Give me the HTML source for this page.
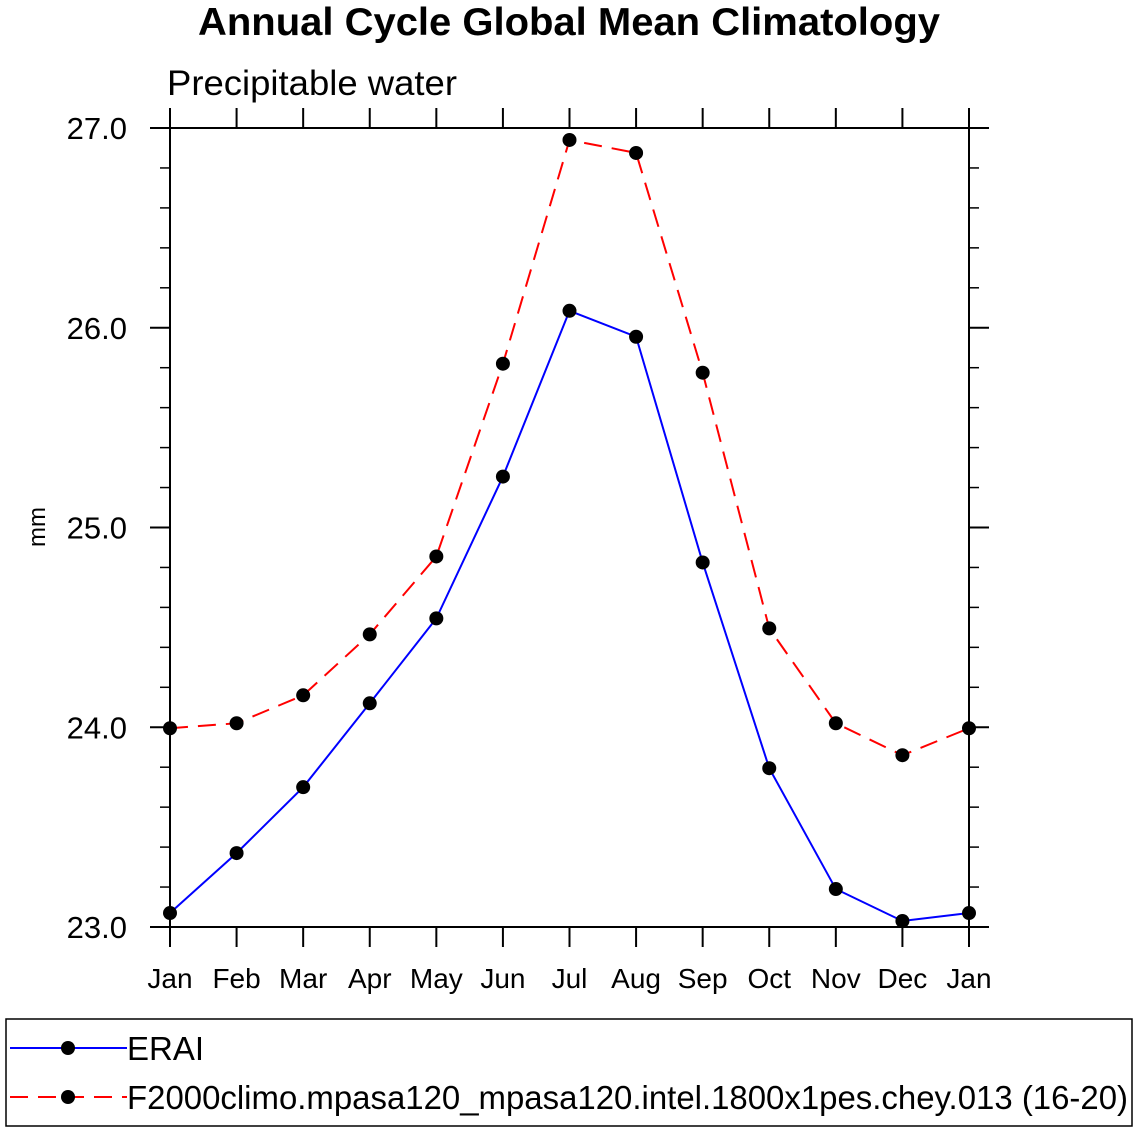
<!DOCTYPE html>
<html><head><meta charset="utf-8"><style>
html,body{margin:0;padding:0;background:#fff}
svg{display:block;font-family:"Liberation Sans",sans-serif}
</style></head><body>
<svg id="chart" width="1138" height="1132" viewBox="0 0 1138 1132">
<text x="198" y="35" textLength="742" lengthAdjust="spacingAndGlyphs" font-size="39" font-weight="bold">Annual Cycle Global Mean Climatology</text>
<text x="167" y="95" textLength="290" lengthAdjust="spacingAndGlyphs" font-size="35">Precipitable water</text>
<text transform="translate(45,527) rotate(-90)" text-anchor="middle" font-size="24">mm</text>
<g id="axes"></g>
<g id="series"></g>
<rect x="6" y="1019" width="1126" height="107" fill="none" stroke="#000" stroke-width="1.5"/>
<g>
<line x1="10" y1="1048" x2="127" y2="1048" stroke="#0000ff" stroke-width="2"/>
<circle cx="68" cy="1048" r="7"/>
<text x="127" y="1060" font-size="33">ERAI</text>
</g>
<g>
<line x1="10" y1="1097" x2="127" y2="1097" stroke="#ff0000" stroke-width="2" stroke-dasharray="18,10"/>
<circle cx="68" cy="1097" r="7"/>
<text x="127" y="1109" textLength="1001" lengthAdjust="spacingAndGlyphs" font-size="33">F2000climo.mpasa120_mpasa120.intel.1800x1pes.chey.013 (16-20)</text>
</g>
</svg>
<script>
const months=["Jan","Feb","Mar","Apr","May","Jun","Jul","Aug","Sep","Oct","Nov","Dec","Jan"];
const erai=[23.07,23.37,23.70,24.12,24.545,25.255,26.085,25.955,24.825,23.795,23.19,23.03,23.07];
const model=[23.995,24.02,24.16,24.465,24.855,25.82,26.94,26.875,25.775,24.495,24.02,23.86,23.995];
const yTicks=["23.0","24.0","25.0","26.0","27.0"];
const X0=170,X1=969,Y0=927,Y1=128,YMIN=23,YMAX=27;
const xs=i=>X0+(X1-X0)*i/(months.length-1);
const ys=v=>Y0-(v-YMIN)/(YMAX-YMIN)*(Y0-Y1);
const NS="http://www.w3.org/2000/svg";
function mk(tag,attrs,parent){const e=document.createElementNS(NS,tag);for(const k in attrs)e.setAttribute(k,attrs[k]);parent.appendChild(e);return e;}
const ax=document.getElementById('axes');
const frame=mk('rect',{x:X0,y:Y1,width:X1-X0,height:Y0-Y1,fill:'none',stroke:'#000','stroke-width':2},ax);


months.forEach((m,i)=>{
 const x=xs(i);
 mk('line',{x1:x,y1:Y0,x2:x,y2:Y0+20,stroke:'#000','stroke-width':2},ax);
 mk('line',{x1:x,y1:Y1,x2:x,y2:Y1-20,stroke:'#000','stroke-width':2},ax);
 const t=mk('text',{x:x,y:Y0+61,'text-anchor':'middle','font-size':28},ax);
 t.textContent=m;
 
 
});
for(let v=YMIN;v<=YMAX+1e-9;v+=0.2){
 const y=ys(v);const major=Math.abs(v-Math.round(v))<1e-6;const L=major?20:10;
 mk('line',{x1:X0-L,y1:y,x2:X0,y2:y,stroke:'#000','stroke-width':major?2:1.5},ax);
 mk('line',{x1:X1,y1:y,x2:X1+L,y2:y,stroke:'#000','stroke-width':major?2:1.5},ax);
}
yTicks.forEach(s=>{
 const t=mk('text',{x:X0-43,y:ys(parseFloat(s))+11,'text-anchor':'end','font-size':31},ax);
 t.textContent=s;
 
 
});
const sg=document.getElementById('series');
function series(vals,color,dash,name){
 const g=mk('g',{},sg);
 
 
 const pts=vals.map((v,i)=>xs(i)+','+ys(v)).join(' ');
 const a={points:pts,fill:'none',stroke:color,'stroke-width':2};
 if(dash)a['stroke-dasharray']=dash;
 mk('polyline',a,g);
 vals.forEach((v,i)=>{
  const c=mk('circle',{cx:xs(i),cy:ys(v),r:7,fill:'#000'},g);
  
  
 });
}
series(model,'#ff0000','18,10','model-series');
series(erai,'#0000ff',null,'erai-series');
</script>
</body></html>
